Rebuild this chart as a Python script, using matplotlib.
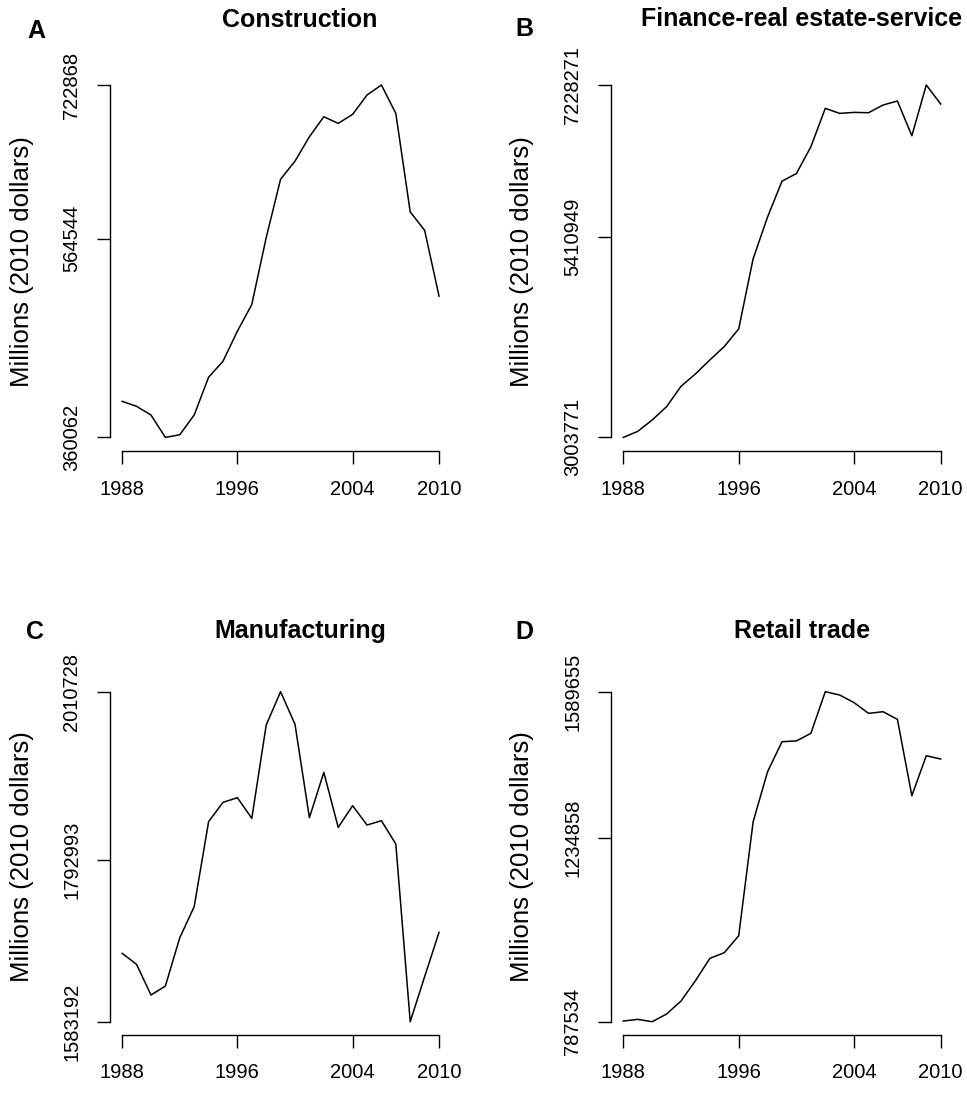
import matplotlib
matplotlib.use('Agg')

import matplotlib.pyplot as plt

plt.rcParams['font.family'] = ['Liberation Sans', 'DejaVu Sans']

years = list(range(1988, 2011))
xticks = [1988, 1996, 2004, 2010]

# Values, millions of 2010 dollars
construction = [397203, 392045, 383103, 360062, 362813, 383100, 421964, 438471,
                469422, 496934, 565714, 625897, 644467, 669572, 690206, 683328,
                692613, 712560, 722868, 693645, 592195, 573280, 505532]
finance = [3003771, 3075848, 3211995, 3372167, 3616429, 3764588, 3932771, 4092941,
           4305169, 5146071, 5646609, 6075069, 6167168, 6487512, 6948007, 6887942,
           6899955, 6895951, 6988050, 7036101, 6619654, 7228271, 7000062]
manufacturing = [1671723, 1657472, 1617741, 1629401, 1692021, 1732184, 1842308, 1867356,
                 1873402, 1846627, 1967547, 2010728, 1968411, 1847490, 1906223, 1834966,
                 1863037, 1837989, 1843604, 1813373, 1583192, 1641493, 1698930]
retail = [789154, 793206, 787534, 806169, 837768, 887191, 941476, 955250,
          996571, 1273666, 1395199, 1468119, 1470000, 1488374, 1589655, 1581550,
          1562915, 1536988, 1541039, 1522404, 1336863, 1434090, 1425987]

titles = ["Construction", "Finance-real estate-service", "Manufacturing", "Retail trade"]
letters = ["A", "B", "C", "D"]
series = [construction, finance, manufacturing, retail]
yticks = [[360062, 564544, 722868],
          [3003771, 5410949, 7228271],
          [1583192, 1792993, 2010728],
          [787534, 1234858, 1589655]]

W, H = 967, 1119
fig = plt.figure(figsize=(W / 100, H / 100), dpi=100)

# plot regions in pixels: left, right, top, bottom
boxes = [(109.5, 451.7, 70.9, 451.5),
         (610.6, 953.4, 70.9, 451.5),
         (109.5, 451.7, 678.5, 1034.9),
         (610.6, 953.4, 678.5, 1034.9)]
title_pos = [(300, 20), (801.7, 19), (300, 631), (801.7, 631)]
letter_pos = [(36, 31), (524, 29), (35, 632), (524, 632)]
ylab_x = [22, 522, 22, 522]

for i in range(4):
    l, r, t, b = boxes[i]
    ax = fig.add_axes([l / W, 1 - b / H, (r - l) / W, (b - t) / H])
    vals = series[i]
    ax.plot(years, vals, color='black', lw=1.1)

    lo, hi = min(vals), max(vals)
    pad = 0.04 * (hi - lo)
    ax.set_xlim(1988 - 0.88, 2010 + 0.88)
    ax.set_ylim(lo - pad, hi + pad)

    ax.set_xticks(xticks)
    ax.set_xticklabels([str(x) for x in xticks])
    ax.set_yticks(yticks[i])
    ax.set_yticklabels([str(v) for v in yticks[i]], rotation=90, va='center')

    for s in ['top', 'right']:
        ax.spines[s].set_visible(False)
    ax.spines['left'].set_bounds(yticks[i][0], yticks[i][-1])
    ax.spines['bottom'].set_bounds(1988, 2010)
    for s in ['left', 'bottom']:
        ax.spines[s].set_linewidth(1.0)
    ax.tick_params(direction='out', length=9.4, width=1.0, labelsize=14.5, pad=11)

    cy = (t + b) / 2
    fig.text(ylab_x[i] / W, 1 - cy / H, "Millions (2010 dollars)", rotation=90,
             ha='center', va='center', fontsize=18.5)
    tx, ty = title_pos[i]
    fig.text(tx / W, 1 - ty / H, titles[i], ha='center', va='center',
             fontsize=18, fontweight='bold')
    lx, ly = letter_pos[i]
    fig.text(lx / W, 1 - ly / H, letters[i], ha='center', va='center',
             fontsize=18, fontweight='bold')

plt.savefig("out.png", dpi=100)
